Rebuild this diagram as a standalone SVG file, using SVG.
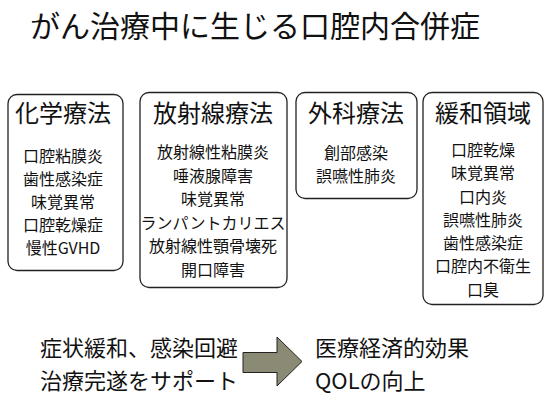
<svg xmlns="http://www.w3.org/2000/svg" width="553" height="409" viewBox="0 0 553 409">
<style>
text{font-family:"Noto Sans CJK JP","Noto Sans",sans-serif;fill:#111;text-anchor:middle}
.title{font-size:30px}
.head{font-size:24px}
.item{font-size:16px}
.low{font-size:22px;text-anchor:start}
.box{fill:#fff;stroke:#222;stroke-width:1.3}
</style>
<rect width="553" height="409" fill="#fff"/>
<text class="title" x="255" y="37">がん治療中に生じる口腔内合併症</text>
<g id="chemo">
<rect class="box" x="8" y="94.5" width="115" height="176" rx="9"/>
<text class="head" x="63" y="122">化学療法</text>
<text class="item" x="63" y="162">口腔粘膜炎</text>
<text class="item" x="63" y="185">歯性感染症</text>
<text class="item" x="63" y="208">味覚異常</text>
<text class="item" x="63" y="231">口腔乾燥症</text>
<text class="item" x="63" y="254">慢性GVHD</text>
</g>
<g id="radio">
<rect class="box" x="140" y="92.5" width="147" height="195" rx="9"/>
<text class="head" x="213" y="122">放射線療法</text>
<text class="item" x="213" y="158">放射線性粘膜炎</text>
<text class="item" x="213" y="181.5">唾液腺障害</text>
<text class="item" x="213" y="205">味覚異常</text>
<text class="item" x="213" y="228.5">ランパントカリエス</text>
<text class="item" x="213" y="252">放射線性顎骨壊死</text>
<text class="item" x="213" y="275.5">開口障害</text>
</g>
<g id="surgery">
<rect class="box" x="296" y="92.5" width="121" height="106" rx="9"/>
<text class="head" x="356" y="122">外科療法</text>
<text class="item" x="356" y="159">創部感染</text>
<text class="item" x="356" y="182">誤嚥性肺炎</text>
</g>
<g id="palliative">
<rect class="box" x="423" y="92.5" width="120" height="212" rx="9"/>
<text class="head" x="483" y="122">緩和領域</text>
<text class="item" x="483" y="156">口腔乾燥</text>
<text class="item" x="483" y="179">味覚異常</text>
<text class="item" x="483" y="202.5">口内炎</text>
<text class="item" x="483" y="225.5">誤嚥性肺炎</text>
<text class="item" x="483" y="249">歯性感染症</text>
<text class="item" x="483" y="272">口腔内不衛生</text>
<text class="item" x="483" y="295.5">口臭</text>
</g>
<g id="connectors">
<path d="M243,352.5 H277 V337 L302,361.5 L277,386 V372.5 H243 Z" fill="#8b8a74" stroke="#222" stroke-width="1"/>
</g>
<g id="support">
<text class="low" x="40" y="356">症状緩和、感染回避</text>
<text class="low" x="40" y="389">治療完遂をサポート</text>
</g>
<g id="outcome">
<text class="low" x="315" y="356">医療経済的効果</text>
<text class="low" x="315" y="389">QOLの向上</text>
</g>
</svg>
